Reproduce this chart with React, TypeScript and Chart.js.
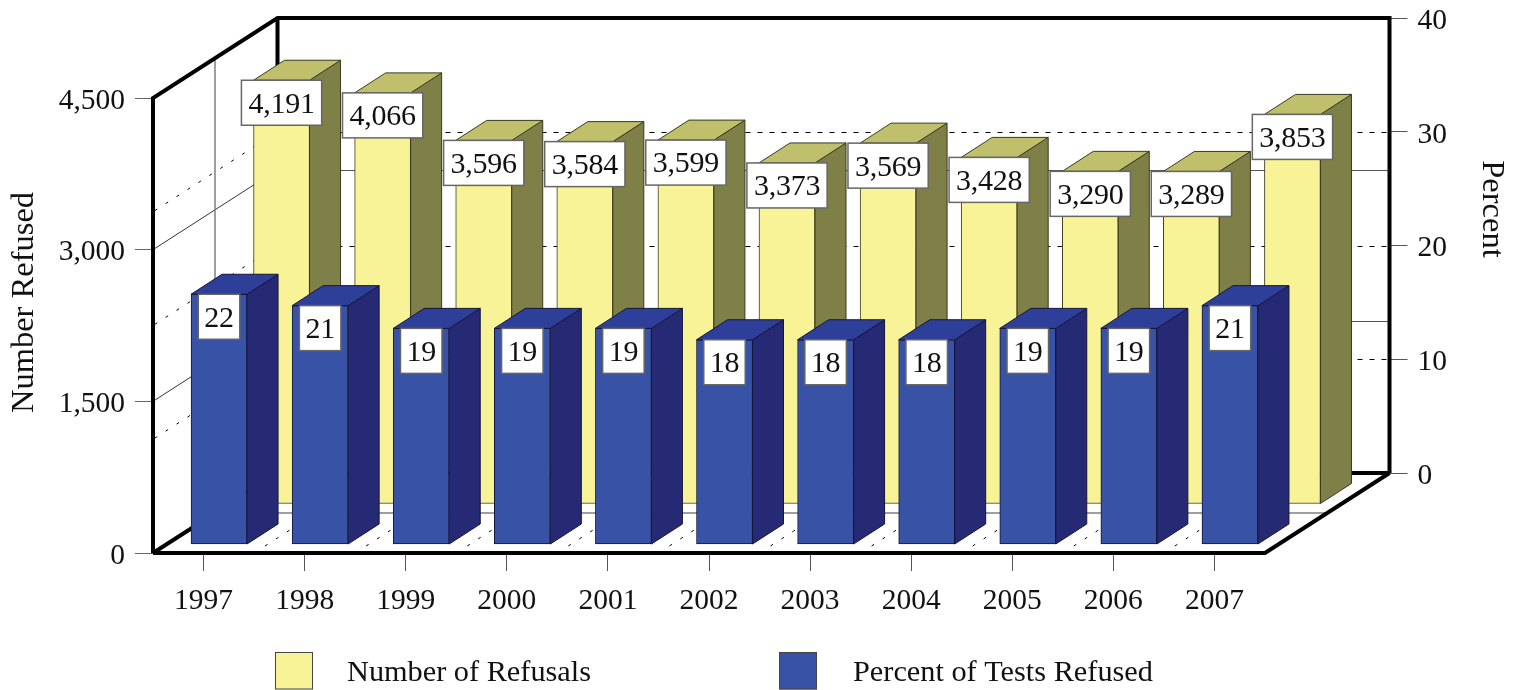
import React, { useEffect, useRef } from "react";
import { Chart, registerables } from "chart.js";

Chart.register(...registerables);

const years = ["1997", "1998", "1999", "2000", "2001", "2002", "2003", "2004", "2005", "2006", "2007"];
const refusals = [4191, 4066, 3596, 3584, 3599, 3373, 3569, 3428, 3290, 3289, 3853];
const percentRefused = [22, 21, 19, 19, 19, 18, 18, 18, 19, 19, 21];

const SERIF = '"Liberation Serif", "Times New Roman", serif';
const INK = "#111";
const WALL_X = 124.5;
const WALL_Y = -80;
const BAR_DX = 31;
const BAR_DY = -20;

const looks = [
  { dx: 78, dy: -49, front: "#F8F396", top: "#BFBF6C", side: "#7F7F48", edge: "#3a3a20", boxPad: 14, legendX: 275, textX: 347 },
  { dx: 15.5, dy: 71.5, front: "#3853A5", top: "#2E3F99", side: "#262973", edge: "#14163c", boxPad: 12, legendX: 779, textX: 853 },
];
const LABEL_H = 45;

function line(ctx: CanvasRenderingContext2D, pts: number[][], width: number, color: string, dash: number[] = []) {
  ctx.save();
  ctx.beginPath();
  pts.forEach(([x, y], i) => (i ? ctx.lineTo(x, y) : ctx.moveTo(x, y)));
  ctx.lineWidth = width;
  ctx.strokeStyle = color;
  ctx.setLineDash(dash);
  ctx.lineJoin = "miter";
  ctx.stroke();
  ctx.restore();
}

const scene = {
  id: "scene",
  afterLayout(chart: any) {
    const s = chart.scales.y1;
    const { chartArea: a } = chart;
    s.left = a.right + WALL_X;
    s.right = 1511.5;
    s.width = s.right - s.left;
    s.top = a.top + WALL_Y;
    s.bottom = a.bottom + WALL_Y;
    s.height = s.bottom - s.top;
    s.configure();
    // axis titles sit off the centre of their axes in the reference
    const shift = (sc: any, d: number) => {
      if (sc.__shifted) return;
      sc.__shifted = true;
      const orig = sc.drawTitle;
      sc.drawTitle = function () {
        const t = sc.top, b = sc.bottom;
        sc.top = t + d;
        sc.bottom = b + d;
        orig.call(sc);
        sc.top = t;
        sc.bottom = b;
      };
    };
    shift(chart.scales.y, -23);
    shift(s, -36.5);
  },
  beforeDatasetsDraw(chart: any) {
    const { ctx, chartArea: a, scales } = chart;
    const { y: ys, y1 } = scales;
    const L = a.left, R = a.right, T = a.top, B = a.bottom;
    const backL = L + WALL_X, backR = R + WALL_X, backT = T + WALL_Y, backB = B + WALL_Y;

    // dotted percent gridlines, back wall and left wall
    y1.ticks.forEach((t: any) => {
      if (t.value === 0 || t.value === 40) return;
      const p = y1.getPixelForValue(t.value);
      const py = Math.round(p) + 0.5;
      line(ctx, [[backL, py], [backR, py]], 1, "#000", [5, 7]);
      line(ctx, [[backL, p], [L, p - WALL_Y]], 1, "#000", [3, 10]);
    });
    // dotted floor lines at category boundaries
    const step = (R - L) / years.length;
    years.forEach((_, i) => {
      if (i === 0) return;
      const fx = L + step * i;
      line(ctx, [[fx, B], [fx + WALL_X, backB]], 1, "#000", [3, 10]);
    });
    // solid count gridlines, back wall and left wall
    ys.ticks.forEach((t: any) => {
      if (t.value === 0 || t.value === 4500) return;
      const p = ys.getPixelForValue(t.value);
      const py = Math.round(p + WALL_Y) + 0.5;
      line(ctx, [[backL, py], [backR, py]], 1, "#555");
      line(ctx, [[L, p], [backL, p + WALL_Y]], 1, "#333");
    });
    // mid-depth guide lines
    const mx = L + 62, my = B - 40;
    line(ctx, [[mx, T - 40], [mx, my], [R + 62, my]], 1.5, "#808080");

    // frame
    const w = 4;
    line(ctx, [[backL, backB], [backL, backT]], w, "#000");
    line(ctx, [[backL, backB], [backR, backB]], w, "#000");
    line(ctx, [[L, B], [L, T], [backL, backT], [backR, backT], [backR, backB]], w, "#000");
    line(ctx, [[L, B], [R, B], [backR, backB]], w, "#000");
    line(ctx, [[L, B], [backL, backB]], w, "#000");
  },
  beforeDatasetDraw(chart: any, args: any) {
    const look = looks[args.index];
    chart.ctx.save();
    chart.ctx.translate(look.dx, look.dy);
  },
  afterDatasetDraw(chart: any, args: any) {
    const { ctx } = chart;
    const look = looks[args.index];
    args.meta.data.forEach((bar: any) => {
      const w = bar.width / 2;
      const l = bar.x - w, r = bar.x + w, t = bar.y, b = bar.base;
      const face = (pts: number[][], fill: string) => {
        ctx.beginPath();
        pts.forEach(([x, y], i) => (i ? ctx.lineTo(x, y) : ctx.moveTo(x, y)));
        ctx.closePath();
        ctx.fillStyle = fill;
        ctx.fill();
        ctx.lineWidth = 1;
        ctx.strokeStyle = look.edge;
        ctx.stroke();
      };
      face([[r, t], [r + BAR_DX, t + BAR_DY], [r + BAR_DX, b + BAR_DY], [r, b]], look.side);
      face([[l, t], [l + BAR_DX, t + BAR_DY], [r + BAR_DX, t + BAR_DY], [r, t]], look.top);
    });
    ctx.restore();
  },
  afterDatasetsDraw(chart: any) {
    const { ctx } = chart;
    // value boxes
    ctx.save();
    ctx.font = `30px ${SERIF}`;
    (ctx as any).letterSpacing = "-0.25px";
    ctx.textAlign = "center";
    ctx.textBaseline = "middle";
    chart.data.datasets.forEach((ds: any, di: number) => {
      const look = looks[di];
      chart.getDatasetMeta(di).data.forEach((bar: any, i: number) => {
        const text = Number(ds.data[i]).toLocaleString("en-US");
        const w = ctx.measureText(text).width + look.boxPad;
        const cx = bar.x + look.dx;
        const top = bar.y + look.dy;
        ctx.fillStyle = "#fff";
        ctx.fillRect(cx - w / 2, top, w, LABEL_H);
        ctx.lineWidth = 1.5;
        ctx.strokeStyle = "#666";
        ctx.strokeRect(cx - w / 2, top, w, LABEL_H);
        ctx.fillStyle = INK;
        ctx.fillText(text, cx, top + LABEL_H / 2 + 2);
      });
    });
    (ctx as any).letterSpacing = "0px";
    // legend
    ctx.font = `30.3px ${SERIF}`;
    ctx.textAlign = "left";
    chart.data.datasets.forEach((ds: any, di: number) => {
      const look = looks[di];
      ctx.fillStyle = look.front;
      ctx.fillRect(look.legendX + 0.5, 652.5, 37, 37);
      ctx.lineWidth = 1;
      ctx.strokeStyle = "#444";
      ctx.strokeRect(look.legendX + 0.5, 652.5, 37, 36.5);
      ctx.fillStyle = INK;
      ctx.fillText(ds.label, look.textX, 673);
    });
    ctx.restore();
  },
};

export default function App() {
  const ref = useRef<HTMLCanvasElement | null>(null);
  useEffect(() => {
    const font = { family: SERIF, size: 29.5 };
    const titleFont = { family: SERIF, size: 32.5 };
    const chart = new Chart(ref.current as HTMLCanvasElement, {
      type: "bar",
      plugins: [scene],
      data: {
        labels: years,
        datasets: [
          { label: "Number of Refusals", data: refusals, yAxisID: "y", order: 2, backgroundColor: looks[0].front, borderColor: looks[0].edge, borderWidth: 1, borderSkipped: false, clip: false, grouped: false, barThickness: 56 },
          { label: "Percent of Tests Refused", data: percentRefused, yAxisID: "y1", order: 1, backgroundColor: looks[1].front, borderColor: looks[1].edge, borderWidth: 1, borderSkipped: false, clip: false, grouped: false, barThickness: 56 },
        ],
      } as any,
      options: {
        responsive: false,
        animation: false,
        locale: "en-US",
        layout: { padding: { top: 98, left: 0, right: 0, bottom: 0 } },
        plugins: { legend: { display: false }, tooltip: { enabled: false } },
        scales: {
          x: {
            grid: { drawOnChartArea: false, offset: false, tickLength: 18, tickColor: "#555", tickWidth: 1 },
            border: { display: false },
            ticks: { font, color: INK, padding: 13, maxRotation: 0, autoSkip: false },
            afterFit(s: any) { s.height = 137; },
          },
          y: {
            position: "left",
            min: 0,
            max: 4500,
            grid: { drawOnChartArea: false, tickLength: 18, tickColor: "#666", tickWidth: 1 },
            border: { display: false },
            ticks: { font, color: INK, padding: 10, stepSize: 1500, labelOffset: 3 },
            title: { display: true, text: "Number Refused", font: titleFont, color: INK, padding: { top: 5, bottom: 0 } },
            afterFit(s: any) { s.width = 153; },
          },
          y1: {
            position: "right",
            min: 0,
            max: 40,
            grid: { drawOnChartArea: false, tickLength: 18, tickColor: "#555", tickWidth: 1 },
            border: { display: false },
            ticks: { font, color: INK, padding: 10, stepSize: 10, labelOffset: 3 },
            title: { display: true, text: "Percent", font: titleFont, color: INK, padding: { top: 0, bottom: 0 } },
            afterFit(s: any) { s.width = 258; },
          },
        },
      } as any,
    });
    return () => chart.destroy();
  }, []);
  return (
    <div style={{ position: "absolute", left: 0, top: 0, width: 1523, height: 690 }}>
      <canvas ref={ref} width={1523} height={690} style={{ display: "block" }} />
    </div>
  );
}
